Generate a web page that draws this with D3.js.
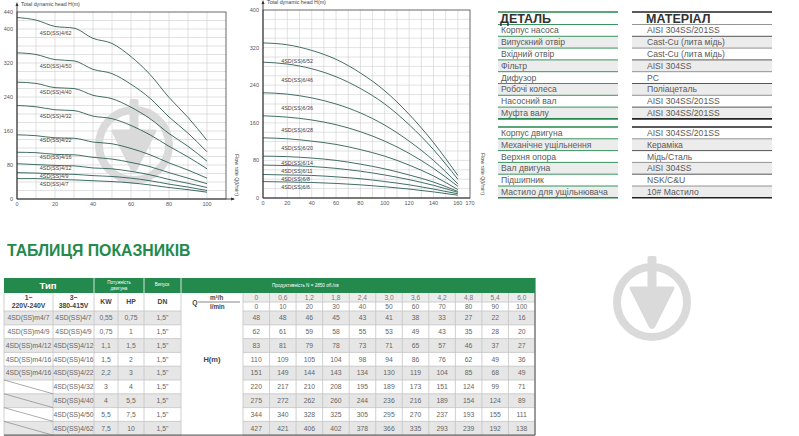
<!DOCTYPE html>
<html lang="uk">
<head>
<meta charset="utf-8">
<title>4SD pumps</title>
<script src="https://d3js.org/d3.v7.min.js"></script>
<style>
  body { margin: 0; background: #fff; }
  text { font-family: "Liberation Sans", Arial, sans-serif; }
</style>
</head>
<body>
<script>
// ---- data ----
var qLpm = [0, 10, 20, 30, 40, 50, 60, 70, 80, 90, 100];
var qM3h = ["0", "0,6", "1,2", "1,8", "2,4", "3,0", "3,6", "4,2", "4,8", "5,4", "6,0"];
var models4 = ["4SD(SS)4/7", "4SD(SS)4/9", "4SD(SS)4/12", "4SD(SS)4/16", "4SD(SS)4/22",
               "4SD(SS)4/32", "4SD(SS)4/40", "4SD(SS)4/50", "4SD(SS)4/62"];
var models4m = ["4SD(SS)m4/7", "4SD(SS)m4/9", "4SD(SS)m4/12", "4SD(SS)m4/16", "4SD(SS)m4/16",
                null, null, null, null];
var kw = ["0,55", "0,75", "1,1", "1,5", "2,2", "3", "4", "5,5", "7,5"];
var hp = ["0,75", "1", "1,5", "2", "3", "4", "5,5", "7,5", "10"];
var dn = ["1,5\"", "1,5\"", "1,5\"", "1,5\"", "1,5\"", "1,5\"", "1,5\"", "1,5\"", "1,5\""];
var head4 = [
  [48, 48, 46, 45, 43, 41, 38, 33, 27, 22, 16],
  [62, 61, 59, 58, 55, 53, 49, 43, 35, 28, 20],
  [83, 81, 79, 78, 73, 71, 65, 57, 46, 37, 27],
  [110, 109, 105, 104, 98, 94, 86, 76, 62, 49, 36],
  [151, 149, 144, 143, 134, 130, 119, 104, 85, 68, 49],
  [220, 217, 210, 208, 195, 189, 173, 151, 124, 99, 71],
  [275, 272, 262, 260, 244, 236, 216, 189, 154, 124, 89],
  [344, 340, 328, 325, 305, 295, 270, 237, 193, 155, 111],
  [427, 421, 406, 402, 378, 366, 335, 293, 239, 192, 138]
];
var labelH4 = [35, 54, 73, 99, 139, 195, 252, 313, 390];

var q6 = [0, 20, 40, 60, 80, 100, 120, 140, 160];
var models6 = ["4SD(SS)6/6", "4SD(SS)6/8", "4SD(SS)6/11", "4SD(SS)6/14", "4SD(SS)6/20",
               "4SD(SS)6/28", "4SD(SS)6/36", "4SD(SS)6/46", "4SD(SS)6/52"];
var head6 = [
  [35, 34, 33, 31, 28, 24, 19, 13, 6],
  [50, 49, 48, 45, 41, 35, 28, 19, 9],
  [70, 69, 67, 63, 57, 49, 39, 27, 12],
  [89, 88, 85, 80, 72, 62, 49, 34, 14],
  [128, 126, 121, 114, 103, 89, 70, 47, 18],
  [175, 172, 166, 156, 141, 121, 95, 63, 25],
  [224, 221, 213, 200, 181, 155, 121, 80, 30],
  [289, 285, 275, 258, 233, 200, 156, 103, 40],
  [330, 326, 314, 295, 266, 228, 178, 118, 48]
];
var labelH6 = [23, 40, 58, 74, 106, 145, 191, 251, 291];

var parts1 = ["Корпус насоса", "Випускний отвір", "Вхідний отвір", "Фільтр", "Дифузор",
              "Робочі колеса", "Насосний вал", "Муфта валу"];
var mats1 = ["AISI 304SS/201SS", "Cast-Cu (лита мідь)", "Cast-Cu (лита мідь)", "AISI 304SS", "PC",
             "Поліацеталь", "AISI 304SS/201SS", "AISI 304SS/201SS"];
var parts2 = ["Корпус двигуна", "Механічне ущільнення", "Верхня опора", "Вал двигуна",
              "Підшипник", "Мастило для ущільнювача"];
var mats2 = ["AISI 304SS/201SS", "Кераміка", "Мідь/Сталь", "AISI 304SS", "NSK/C&U", "10# Мастило"];

var green = "#23894c";
var curveColor = "#2d5e54";

var svg = d3.select("body").append("svg")
    .attr("width", 799).attr("height", 436);
svg.append("rect").attr("width", 799).attr("height", 436).attr("fill", "#fff");

function watermark(parent, cx, cy) {
  var w = parent.append("g").attr("transform", "translate(" + cx + "," + cy + ")");
  w.append("circle").attr("r", 35).attr("fill", "none")
      .attr("stroke", "#dadada").attr("stroke-width", 8);
  w.append("rect").attr("x", -4.5).attr("y", -46).attr("width", 9).attr("height", 34)
      .attr("rx", 2).attr("fill", "#dadada");
  w.append("path").attr("d", "M-21,-14 L21,-14 L2,24 Q0,27 -2,24 Z")
      .attr("fill", "#dadada").attr("stroke", "#dadada")
      .attr("stroke-width", 3).attr("stroke-linejoin", "round");
}

function drawChart(c) {
  var g = svg.append("g").attr("transform", "translate(" + c.left + "," + c.bottom + ")");
  var x = d3.scaleLinear().domain([0, c.xMax]).range([0, c.width]);
  var y = d3.scaleLinear().domain([0, c.yMax]).range([0, -c.height]);

  g.selectAll("line.vg").data(d3.range(10, c.xMax, 10)).enter().append("line")
      .attr("x1", d => x(d)).attr("x2", d => x(d))
      .attr("y1", 0).attr("y2", y(c.yMax))
      .attr("stroke", "#cfcfcf").attr("stroke-width", 0.6);
  g.selectAll("line.hg").data(d3.range(20, c.yMax, 20)).enter().append("line")
      .attr("x1", 0).attr("x2", x(c.xMax))
      .attr("y1", d => y(d)).attr("y2", d => y(d))
      .attr("stroke", "#cfcfcf").attr("stroke-width", 0.6);

  if (c.mark) watermark(g, c.mark[0], c.mark[1]);

  g.append("rect").attr("x", 0).attr("y", y(c.yMax))
      .attr("width", x(c.xMax)).attr("height", c.height)
      .attr("fill", "none").attr("stroke", "#444").attr("stroke-width", 0.8);

  var line = d3.line().x((d, i) => x(c.q[i])).y(d => y(d)).curve(d3.curveMonotoneX);
  g.selectAll("path.curve").data(c.heads).enter().append("path")
      .attr("d", d => line(d)).attr("fill", "none")
      .attr("stroke", curveColor).attr("stroke-width", 0.9);

  g.selectAll("text.lab").data(c.names).enter().append("text")
      .attr("x", x(c.labelQ)).attr("y", (d, i) => y(c.labelH[i]))
      .attr("dy", "0.35em").attr("font-size", 5.4).attr("fill", "#444")
      .text(d => d);

  // axes
  g.append("line").attr("x1", 0).attr("x2", 0).attr("y1", 0).attr("y2", -c.height - 8)
      .attr("stroke", "#333").attr("stroke-width", 0.9);
  g.append("path").attr("d", "M-1.5," + (-c.height - 6) + " L0," + (-c.height - 10) + " L1.5," + (-c.height - 6) + "Z")
      .attr("fill", "#333");
  g.append("line").attr("x1", 0).attr("x2", x(c.xMax) + c.xArrow).attr("y1", 0).attr("y2", 0)
      .attr("stroke", "#333").attr("stroke-width", 0.9);
  if (c.xArrow > 0) {
    var ax = x(c.xMax) + c.xArrow;
    g.append("path").attr("d", "M" + (ax - 3) + ",-1.5 L" + (ax + 1) + ",0 L" + (ax - 3) + ",1.5Z")
        .attr("fill", "#333");
  }

  g.selectAll("text.yt").data(c.yTicks).enter().append("text")
      .attr("x", -4).attr("y", d => y(d)).attr("dy", "0.35em")
      .attr("text-anchor", "end").attr("font-size", 5.5).attr("fill", "#555")
      .text(d => d);
  g.selectAll("text.xt").data(c.xTicks).enter().append("text")
      .attr("x", d => x(d)).attr("y", 7).attr("text-anchor", "middle")
      .attr("font-size", 5.5).attr("fill", "#555")
      .text(d => d);

  g.append("text").attr("x", 4).attr("y", -c.height - 6)
      .attr("font-size", 5.3).attr("fill", "#444").text("Total dynamic head H(m)");
  g.append("text")
      .attr("transform", "translate(" + c.flowX + ",-24) rotate(90)")
      .attr("text-anchor", "middle").attr("font-size", 5.3).attr("fill", "#444")
      .text("Flow rate Q(l/min)");
}

drawChart({
  left: 17, bottom: 199, width: 209, height: 187, xMax: 110, yMax: 440,
  q: qLpm, heads: head4, names: models4, labelQ: 12, labelH: labelH4,
  xTicks: [0, 20, 40, 60, 80, 100], yTicks: [0, 80, 160, 240, 320, 400, 440],
  xArrow: 8, flowX: 218, mark: [117, -54]
});
drawChart({
  left: 263, bottom: 198, width: 207, height: 188, xMax: 170, yMax: 400,
  q: q6, heads: head6.slice().reverse(), names: models6.slice().reverse(), labelQ: 15,
  labelH: labelH6.slice().reverse(),
  xTicks: [0, 20, 40, 60, 80, 100, 120, 140, 160, 170], yTicks: [0, 80, 160, 240, 320, 400],
  xArrow: 0, flowX: 218
});

// ---- parts / materials table ----
var pt = svg.append("g");
var rowH = 11.8;
function partsGroup(parts, mats, top, header) {
  var y0 = top + (header ? 12.5 : 0);
  parts.forEach(function (p, i) {
    var ry = y0 + i * rowH;
    if (i % 2 === 1) {
      pt.append("rect").attr("x", 498).attr("y", ry).attr("width", 120).attr("height", rowH).attr("fill", "#ececec");
      pt.append("rect").attr("x", 632).attr("y", ry).attr("width", 140).attr("height", rowH).attr("fill", "#ececec");
    }
    pt.append("text").attr("x", 501).attr("y", ry + rowH / 2).attr("dy", "0.35em")
        .attr("font-size", 8.6).attr("fill", "#5a5a5a").text(p);
    pt.append("text").attr("x", 647).attr("y", ry + rowH / 2).attr("dy", "0.35em")
        .attr("font-size", 8.6).attr("fill", "#5a5a5a").text(mats[i]);
  });
  var lines = d3.range(0, parts.length + 1).map(i => y0 + i * rowH);
  if (header) lines.unshift(top);
  lines.forEach(function (ly, i) {
    var edge = (i === 0 || i === lines.length - 1);
    pt.append("line").attr("x1", 498).attr("x2", 618).attr("y1", ly).attr("y2", ly)
        .attr("stroke", green).attr("stroke-width", edge ? 1.6 : 0.9);
    pt.append("line").attr("x1", 632).attr("x2", 772).attr("y1", ly).attr("y2", ly)
        .attr("stroke", edge ? "#222" : (i % 2 ? "#888" : "#444")).attr("stroke-width", edge ? 1.6 : 0.9);
  });
  if (header) {
    pt.append("text").attr("x", 500).attr("y", top + 11).attr("font-size", 12.5)
        .attr("font-weight", "bold").attr("fill", "#333").text("ДЕТАЛЬ");
    pt.append("text").attr("x", 646).attr("y", top + 11).attr("font-size", 12.5)
        .attr("font-weight", "bold").attr("fill", "#333").text("МАТЕРІАЛ");
  }
}
partsGroup(parts1, mats1, 12, true);
partsGroup(parts2, mats2, 127, false);

// ---- title ----
svg.append("text").attr("x", 7).attr("y", 255.5).attr("font-size", 15.8)
    .attr("font-weight", "bold").attr("fill", green).text("ТАБЛИЦЯ ПОКАЗНИКІВ");

watermark(svg, 652, 302);

// ---- performance table ----
var tb = svg.append("g");
var colX = [4, 53, 94, 118, 144, 181, 243];
var valW = (535 - 243) / qLpm.length;
var valX = d3.range(qLpm.length + 1).map(i => 243 + i * valW);
var yHead = 278, ySub = 293, ySub2 = 302, yData = 311, dRowH = 13.8;
var yEnd = yData + dRowH * models4.length;
var cellText = "#666";

// backgrounds
models4.forEach(function (m, r) {
  if (r % 2 === 0) {
    var ry = yData + r * dRowH;
    tb.append("rect").attr("x", 4).attr("y", ry).attr("width", 181 - 4).attr("height", dRowH).attr("fill", "#e6e6e6");
    tb.append("rect").attr("x", 243).attr("y", ry).attr("width", 535 - 243).attr("height", dRowH).attr("fill", "#e6e6e6");
  }
});
tb.append("rect").attr("x", 243).attr("y", ySub).attr("width", 535 - 243).attr("height", ySub2 - ySub).attr("fill", "#ececec");

// grid lines
var gridC = "#c4c4c4";
d3.range(models4.length + 1).forEach(function (r) {
  var ly = yData + r * dRowH;
  tb.append("line").attr("x1", 4).attr("x2", 181).attr("y1", ly).attr("y2", ly).attr("stroke", gridC).attr("stroke-width", 0.8);
  tb.append("line").attr("x1", 243).attr("x2", 535).attr("y1", ly).attr("y2", ly).attr("stroke", gridC).attr("stroke-width", 0.8);
});
tb.append("line").attr("x1", 243).attr("x2", 535).attr("y1", ySub2).attr("y2", ySub2).attr("stroke", gridC).attr("stroke-width", 0.8);
tb.append("line").attr("x1", 198).attr("x2", 240).attr("y1", ySub2).attr("y2", ySub2).attr("stroke", "#555").attr("stroke-width", 0.7);
colX.concat(valX.slice(1)).forEach(function (cx) {
  tb.append("line").attr("x1", cx).attr("x2", cx).attr("y1", ySub).attr("y2", yEnd).attr("stroke", gridC).attr("stroke-width", 0.8);
});
tb.append("line").attr("x1", 4).attr("x2", 535).attr("y1", yEnd).attr("y2", yEnd).attr("stroke", "#666").attr("stroke-width", 1.2);
tb.append("line").attr("x1", 535).attr("x2", 535).attr("y1", yHead).attr("y2", yEnd).attr("stroke", "#666").attr("stroke-width", 1.2);

// header
tb.append("rect").attr("x", 4).attr("y", yHead).attr("width", 531).attr("height", ySub - yHead).attr("fill", green);
[94, 144, 181].forEach(function (cx) {
  tb.append("line").attr("x1", cx).attr("x2", cx).attr("y1", yHead).attr("y2", ySub).attr("stroke", "#fff").attr("stroke-width", 0.8);
});
tb.append("text").attr("x", 48).attr("y", 289).attr("text-anchor", "middle").attr("font-size", 9.5)
    .attr("font-weight", "bold").attr("fill", "#fff").text("Тип");
tb.append("text").attr("x", 119).attr("y", 284).attr("text-anchor", "middle").attr("font-size", 4.6)
    .attr("fill", "#fff").text("Потужність");
tb.append("text").attr("x", 119).attr("y", 290).attr("text-anchor", "middle").attr("font-size", 4.6)
    .attr("fill", "#fff").text("двигуна");
tb.append("text").attr("x", 162).attr("y", 286).attr("text-anchor", "middle").attr("font-size", 4.6)
    .attr("fill", "#fff").text("Випуск");
tb.append("text").attr("x", 272).attr("y", 287).attr("font-size", 4.6)
    .attr("fill", "#fff").text("Продуктивність N = 2850 об./хв");

// sub header
function ctext(x, y, s, size, bold, fill) {
  tb.append("text").attr("x", x).attr("y", y).attr("dy", "0.35em").attr("text-anchor", "middle")
      .attr("font-size", size).attr("font-weight", bold ? "bold" : "normal").attr("fill", fill || cellText).text(s);
}
ctext(28.5, 297.5, "1~", 6.8, true, "#444");
ctext(28.5, 305.5, "220V-240V", 6.8, true, "#444");
ctext(73.5, 297.5, "3~", 6.8, true, "#444");
ctext(73.5, 305.5, "380-415V", 6.8, true, "#444");
ctext(106, 302, "KW", 6.8, true, "#444");
ctext(131, 302, "HP", 6.8, true, "#444");
ctext(162.5, 302, "DN", 6.8, true, "#444");
ctext(195, 302.5, "Q", 6.8, true, "#444");
tb.append("text").attr("x", 210).attr("y", 299.5).attr("font-size", 6.3).attr("font-weight", "bold")
    .attr("fill", "#444").text("m³/h");
tb.append("text").attr("x", 210).attr("y", 309).attr("font-size", 6.3).attr("font-weight", "bold")
    .attr("fill", "#444").text("l/min");
qM3h.forEach(function (v, i) { ctext((valX[i] + valX[i + 1]) / 2, (ySub + ySub2) / 2, v, 6.6, false, "#777"); });
qLpm.forEach(function (v, i) { ctext((valX[i] + valX[i + 1]) / 2, (ySub2 + yData) / 2, v, 6.6, false, "#666"); });
ctext(212, yData + 3.5 * dRowH, "H(m)", 7.5, true, "#444");

// data rows
models4.forEach(function (m, r) {
  var cy = yData + (r + 0.5) * dRowH;
  var ry = yData + r * dRowH;
  if (models4m[r]) {
    ctext(28.5, cy, models4m[r], 6.8, false);
  } else {
    tb.append("line").attr("x1", 4).attr("x2", 53).attr("y1", ry).attr("y2", ry + dRowH)
        .attr("stroke", "#888").attr("stroke-width", 0.7);
  }
  ctext(73.5, cy, m, 6.8, false);
  ctext(106, cy, kw[r], 6.8, false);
  ctext(131, cy, hp[r], 6.8, false);
  ctext(162.5, cy, dn[r], 6.8, false);
  head4[r].forEach(function (v, i) { ctext((valX[i] + valX[i + 1]) / 2, cy, v, 6.8, false); });
});
</script>
</body>
</html>
